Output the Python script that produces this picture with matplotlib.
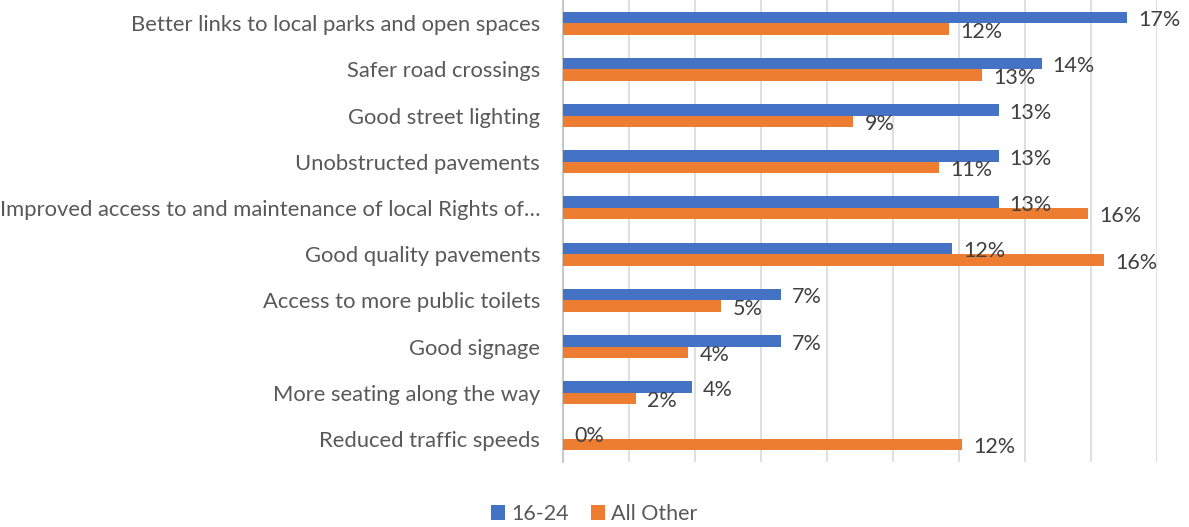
import matplotlib.pyplot as plt
import numpy as np

categories = [
    "Better links to local parks and open spaces",
    "Safer road crossings",
    "Good street lighting",
    "Unobstructed pavements",
    "Improved access to and maintenance of local Rights of\u2026",
    "Good quality pavements",
    "Access to more public toilets",
    "Good signage",
    "More seating along the way",
    "Reduced traffic speeds",
]
young = [17.1, 14.5, 13.2, 13.2, 13.2, 11.8, 6.6, 6.6, 3.9, 0.0]
other = [11.7, 12.7, 8.8, 11.4, 15.9, 16.4, 4.8, 3.8, 2.2, 12.1]
series_names = ["16-24", "All Other"]
colors = ["#4472C4", "#ED7D31"]

plt.rcParams['font.family'] = ['Lato', 'DejaVu Sans']

fig = plt.figure(figsize=(11.89, 5.27), dpi=100)
ax = fig.add_axes([563 / 1189, 1 - 462 / 527, (1157 - 563) / 1189, 462 / 527])

y = np.arange(len(categories))
h = 0.25
for vals, name, col, off in [(young, series_names[0], colors[0], -h / 2),
                             (other, series_names[1], colors[1], h / 2)]:
    ax.barh(y + off, vals, height=h, color=col, label=name, zorder=3)
    for yi, v in zip(y, vals):
        ax.annotate(f"{v:.0f}%", (v, yi + off), xytext=(8, -2), textcoords="offset points",
                    ha="left", va="center", fontsize=15.5, color="#404040", zorder=4)

ax.set_xlim(0, 18)
ax.set_ylim(len(categories) - 0.5, -0.5)
ax.set_xticks(np.arange(0, 19, 2))
ax.set_xticklabels([])
ax.tick_params(axis='x', length=0)
ax.grid(axis='x', color="#D9D9D9", linewidth=1.2, zorder=0)
ax.set_yticks(y)
ax.set_yticklabels(categories, fontsize=15.8, color="#595959")
ax.tick_params(axis='y', length=0, pad=16.5)
for s in ["top", "right", "bottom"]:
    ax.spines[s].set_visible(False)
ax.spines["left"].set_color("#BFBFBF")
ax.spines["left"].set_linewidth(1.2)

leg = fig.legend(loc="center", bbox_to_anchor=(0.5, 1 - 514 / 527), ncol=2, frameon=False,
                 fontsize=15.5, handlelength=0.65, handleheight=0.65, handletextpad=0.3,
                 columnspacing=1.0)
for t in leg.get_texts():
    t.set_color("#595959")

fig.savefig("out.png", dpi=100)
